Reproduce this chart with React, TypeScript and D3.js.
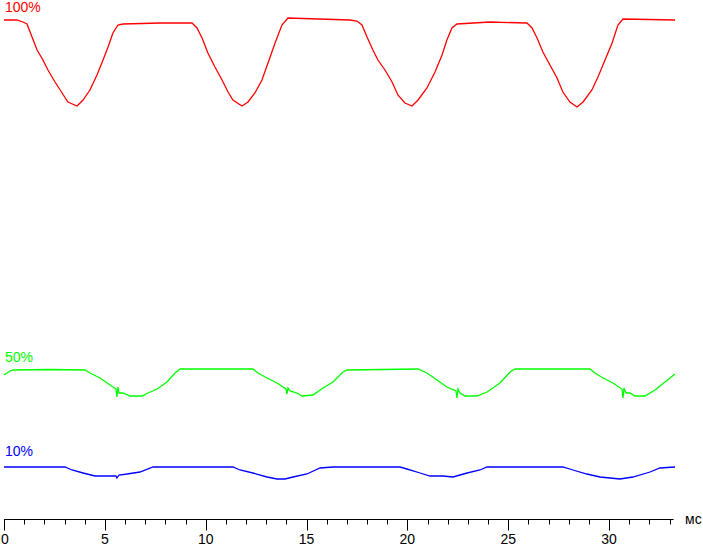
import React from "react";
import * as d3 from "d3";

// time in ms, brightness value (arbitrary % scale)
const redT = [0.00,0.64,0.94,1.14,1.39,1.64,1.93,2.18,2.53,2.88,3.17,3.62,3.92,4.26,4.61,4.91,5.16,5.40,5.65,5.90,7.73,9.32,9.57,9.82,10.11,10.46,10.81,11.11,11.35,11.80,12.10,12.44,12.79,13.09,13.44,13.78,14.08,17.15,17.50,17.75,18.00,18.29,18.54,18.89,19.24,19.53,19.88,20.23,20.53,20.97,21.37,21.72,21.96,22.21,22.46,24.10,25.93,26.18,26.43,26.72,27.07,27.42,27.71,28.06,28.41,28.71,29.15,29.45,29.80,30.15,30.44,30.69,33.27];
const redV = [99.8,99.8,99.4,99.0,96.4,93.8,91.8,89.8,87.4,85.2,83.4,82.6,83.8,85.8,88.8,91.8,94.4,97.2,98.8,99.0,99.2,99.2,98.2,96.2,93.2,90.4,87.8,85.4,83.8,82.6,83.4,85.2,87.8,91.2,95.2,98.8,100.2,99.8,99.6,98.8,96.4,93.8,91.8,89.8,87.4,84.8,83.2,82.6,83.8,86.2,89.4,92.8,95.8,98.2,99.0,99.4,99.2,98.2,96.2,93.4,90.8,88.2,85.4,83.4,82.4,83.4,85.8,88.4,91.8,95.2,98.8,100.0,99.8];

const greenT = [0.00,0.30,0.45,2.28,4.02,4.26,4.76,5.26,5.55,5.60,5.65,5.70,5.90,6.25,6.84,7.14,7.59,8.08,8.48,8.73,12.35,12.59,13.04,13.54,13.98,14.03,14.08,14.18,14.53,14.77,15.32,15.82,16.31,16.81,17.01,20.53,20.97,21.47,21.96,22.41,22.46,22.51,22.61,22.86,23.45,23.95,24.59,25.09,25.33,29.05,29.30,29.70,30.19,30.64,30.69,30.74,30.84,31.04,31.28,31.78,32.28,32.77,33.27];
const greenV = [28.8,29.6,29.8,29.9,29.8,29.2,28.2,26.8,26.0,24.4,26.4,25.2,25.2,24.6,24.6,25.2,26.0,27.4,29.2,30.0,30.0,29.2,28.2,27.2,26.0,25.0,26.2,25.6,25.2,24.6,24.8,26.2,27.4,29.4,29.8,30.0,29.2,27.8,26.4,25.6,24.2,26.0,25.2,24.6,24.6,25.4,27.2,29.4,30.0,30.0,29.2,28.2,27.2,26.0,24.2,26.2,25.2,25.2,24.6,24.6,25.8,27.4,29.0];

const blueT = [0.00,3.02,3.37,3.92,4.51,5.11,5.55,5.60,5.70,6.10,6.74,7.39,11.35,11.70,12.34,13.04,13.54,13.93,14.33,15.02,15.67,16.31,19.63,19.98,20.63,21.12,21.76,22.26,22.96,23.60,23.95,27.71,28.21,28.90,29.55,30.54,31.18,32.03,32.52,33.27];
const blueV = [10.4,10.4,9.8,9.2,8.6,8.6,8.6,8.2,8.8,9.0,9.4,10.4,10.4,9.8,9.2,8.4,8.0,8.0,8.4,9.0,10.2,10.4,10.4,10.0,9.2,8.6,8.6,8.4,9.2,9.8,10.4,10.4,9.8,9.0,8.4,8.0,8.4,9.4,10.2,10.4];

const seriesLabels = ["100%", "50%", "10%"];
const xTickValues = [0, 5, 10, 15, 20, 25, 30];
const xMinorTicks = d3.range(0, 34, 1);
const unitLabel = "мс";

export default function App() {
  const W = 703, H = 547;
  const x = d3.scaleLinear().domain([0, 33.2]).range([4, 673.6]);
  const y = d3.scaleLinear().domain([0, 100]).range([519, 19]);
  const mk = (ts: number[], vs: number[]) =>
    d3.line<number>().x((_, i) => x(ts[i])).y((_, i) => y(vs[i]))(ts) || "";

  const series = [
    { d: mk(redT, redV), color: "#ff0000", label: seriesLabels[0], ly: 12 },
    { d: mk(greenT, greenV), color: "#00ff00", label: seriesLabels[1], ly: 362 },
    { d: mk(blueT, blueV), color: "#0000ff", label: seriesLabels[2], ly: 456 },
  ];
  const axisY = 519.5;
  const font = "'Liberation Sans', Arial, sans-serif";
  return (
    <svg width={W} height={H} style={{ position: "absolute", left: 0, top: 0, background: "#fff" }}>
      {series.map((s, i) => (
        <g key={i}>
          <path d={s.d} fill="none" stroke={s.color} strokeWidth={1.3} />
          <text x={5} y={s.ly} fill={s.color} fontFamily={font} fontSize={14}>{s.label}</text>
        </g>
      ))}
      <line x1={x(0)} x2={x(33.2)} y1={axisY} y2={axisY} stroke="#000" strokeWidth={1} />
      {xMinorTicks.map((t) => (
        <line key={"m" + t} x1={Math.round(x(t)) + 0.5} x2={Math.round(x(t)) + 0.5} y1={axisY} y2={axisY + 5} stroke="#000" strokeWidth={1} />
      ))}
      {xTickValues.map((t) => (
        <g key={"t" + t}>
          <line x1={Math.round(x(t)) + 0.5} x2={Math.round(x(t)) + 0.5} y1={axisY} y2={axisY + 11} stroke="#000" strokeWidth={1} />
          <text x={Math.max(x(t), 5)} y={544} textAnchor="middle" fontFamily={font} fontSize={14} fill="#000">{t}</text>
        </g>
      ))}
      <text x={685} y={524} fontFamily={font} fontSize={14} fill="#000">{unitLabel}</text>
    </svg>
  );
}
